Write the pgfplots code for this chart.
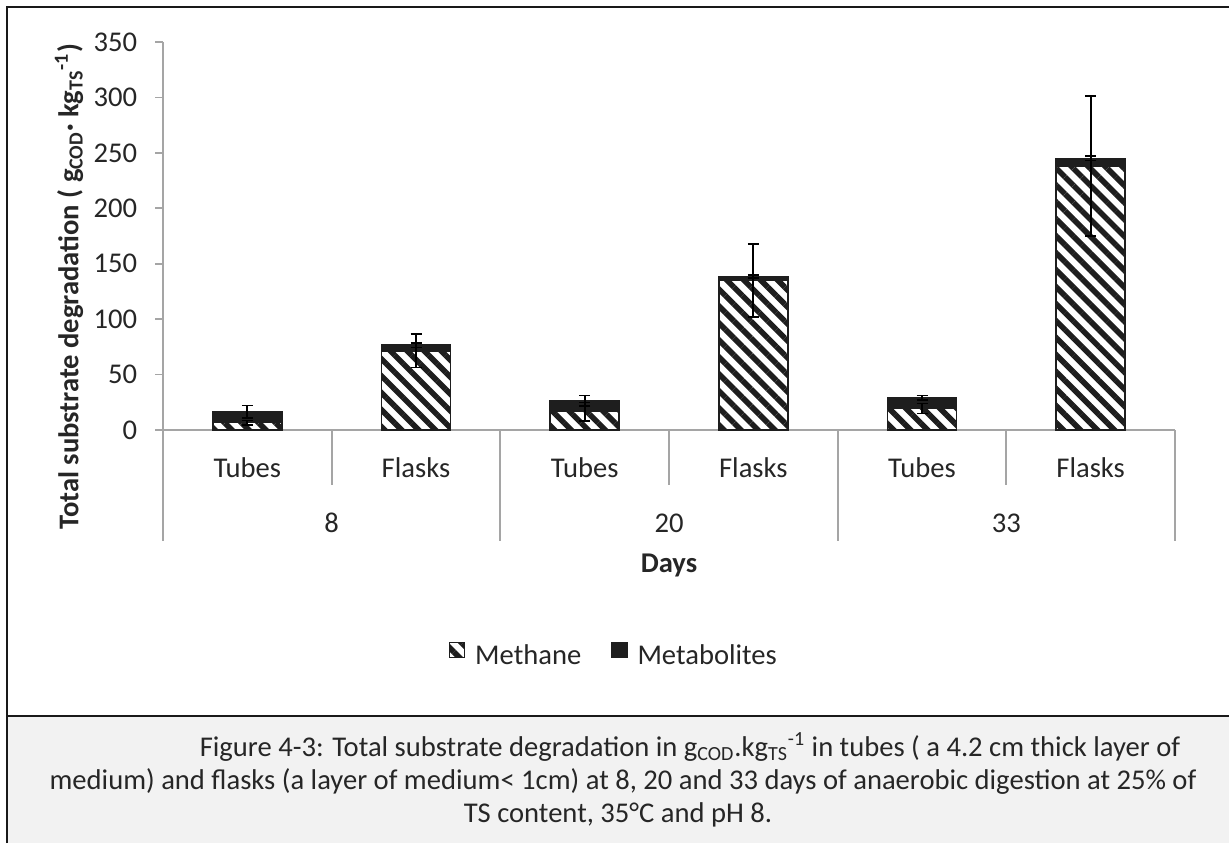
\documentclass[border=0pt]{standalone}
\usepackage{pgfplots}
\pgfplotsset{compat=1.18}
\usepackage{pgfplotstable}
\usepackage{fontspec}
\setmainfont{Carlito}
\usetikzlibrary{patterns.meta}
\definecolor{axgray}{RGB}{165,165,165}
\definecolor{capgray}{RGB}{242,242,242}
\definecolor{barblack}{RGB}{30,30,30}
\definecolor{txt}{RGB}{38,38,38}

\pgfplotstableread{
x methane merr total terr
0 6.7 2 16.6 5.5
1 71.5 15 76.5 2
2 16.6 8.2 26.5 4.6
3 135 33 138.5 1.5
4 19.3 4.5 29.2 2
5 238 63 245 2
}\data

\begin{document}
\fontsize{14.3}{17}\selectfont
\begin{tikzpicture}[font=\fontsize{14.3}{17}\selectfont, text=txt]
\begin{scope}[x=0.5pt,y=-0.5pt]
\fill[capgray] (8,717) rectangle (1229,843);
\draw[line width=1pt, black!90] (7,843) -- (7,7) -- (1229,7);
\draw[line width=1pt, black!90] (7,716) -- (1229,716);
\node[anchor=base] at (690,756) {Figure 4-3: Total substrate degradation in g\textsubscript{COD}.kg\textsubscript{TS}\textsuperscript{-1} in tubes ( a 4.2 cm thick layer of};
\node[anchor=base] at (623,789) {medium) and flasks (a layer of medium< 1cm) at 8, 20 and 33 days of anaerobic digestion at 25\% of};
\node[anchor=base] at (618,822) {TS content, 35°C and pH 8.};
\end{scope}

\begin{axis}[
  at={(81.5pt,-215pt)}, anchor=south west,
  scale only axis, width=506pt, height=194pt,
  xmin=-0.5, xmax=5.5, ymin=0, ymax=350,
  clip=false,
  axis lines*=left,
  axis line style={axgray, line width=0.9pt},
  ytick={0,50,...,350},
  ytick style={axgray, line width=0.9pt},
  major tick length=4pt,
  tick align=outside,
  xtick=\empty,
  yticklabel style={xshift=-4pt, text=txt},
  /pgf/number format/assume math mode=true,
  legend style={at={(axis description cs:0.4466,-0.584)}, anchor=center, draw=none, fill=none,
    legend columns=-1,
    /tikz/every odd column/.append style={column sep=3pt},
    /tikz/every even column/.append style={column sep=13pt}, text=txt},
  legend image code/.code={\draw[#1, line width=0.6pt] (0pt,-0.5pt) rectangle (7.5pt,7pt);},
]
\addplot[ybar, bar width=34.5pt, bar shift=0pt, fill=barblack, draw=barblack, line width=0.8pt, forget plot,
  error bars/.cd, y dir=both, y explicit,
  error bar style={black, line width=0.85pt},
  error mark options={black, rotate=90, line width=0.85pt, mark size=2.75pt}]
  table[x=x, y=total, y error=terr] {\data};
\addplot[ybar, bar width=34.5pt, bar shift=0pt, fill=white, draw=barblack, line width=0.8pt,
  postaction={pattern={Lines[angle=-45,distance=6pt,line width=2.8pt]}, pattern color=barblack},
  error bars/.cd, y dir=both, y explicit,
  error bar style={black, line width=0.85pt},
  error mark options={black, rotate=90, line width=0.85pt, mark size=2.75pt}]
  table[x=x, y=methane, y error=merr] {\data};
\addlegendentry{Methane}
\addlegendimage{fill=barblack, draw=barblack}
\addlegendentry{Metabolites}

\pgfplotsinvokeforeach{-0.5,1.5,3.5,5.5}{\draw[axgray,line width=0.9pt] (axis cs:#1,0) -- ++(0pt,-55.5pt);}
\pgfplotsinvokeforeach{0.5,2.5,4.5}{\draw[axgray,line width=0.9pt] (axis cs:#1,0) -- ++(0pt,-27.5pt);}
\pgfplotsinvokeforeach{0,2,4}{\node at (axis cs:#1,0) [yshift=-19pt] {Tubes};}
\pgfplotsinvokeforeach{1,3,5}{\node at (axis cs:#1,0) [yshift=-19pt] {Flasks};}
\node at (axis cs:0.5,0) [yshift=-46.5pt] {8};
\node at (axis cs:2.5,0) [yshift=-46.5pt] {20};
\node at (axis cs:4.5,0) [yshift=-46.5pt] {33};
\node at (axis cs:2.5,0) [yshift=-67.5pt, font=\fontsize{14.3}{17}\selectfont\bfseries] {Days};
\node at (rel axis cs:0,0) [xshift=-47pt, yshift=-50pt, rotate=90, anchor=west, inner sep=0pt, font=\fontsize{14.3}{17}\selectfont\bfseries]
  {Total substrate degradation ( g\textsubscript{COD}· kg\textsubscript{TS}\textsuperscript{-1})};
\end{axis}
\pgfresetboundingbox
\path[use as bounding box] (0pt,0pt) rectangle (614.5pt,-421.5pt);
\end{tikzpicture}
\end{document}
